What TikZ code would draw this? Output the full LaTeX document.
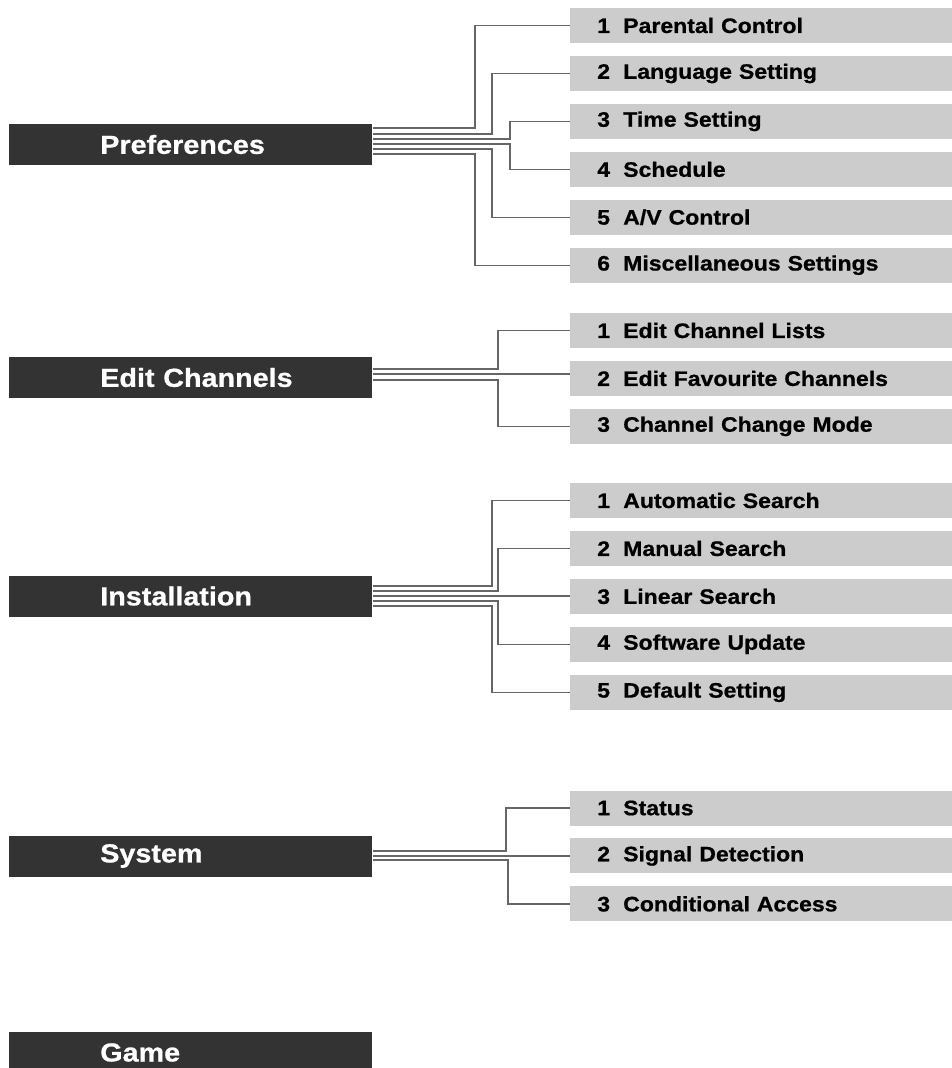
\documentclass[tikz,border=0pt]{standalone}
\usepackage{fontspec}
\setmainfont{Liberation Sans}[FakeStretch=1.1, FakeBold=0.8]
\usetikzlibrary{positioning,calc}
\definecolor{barblack}{HTML}{333333}
\definecolor{optgrey}{HTML}{CCCCCC}
\definecolor{wiregrey}{HTML}{666666}
\newcommand{\opt}[2]{\hspace*{20.25pt}\makebox[19.5pt][l]{#1}#2}

\begin{document}
\begin{tikzpicture}[
  x=0.75pt, y=-0.75pt, node distance=9.3pt,
  menu/.style={fill=barblack, text=white, anchor=west, inner xsep=0pt,
    text width=272.25pt, minimum height=30.75pt, align=left,
    font=\fontsize{19.6}{22}\selectfont\bfseries},
  option/.style={fill=optgrey, anchor=west, inner xsep=0pt, inner ysep=0pt,
    text width=286.5pt, minimum height=26.25pt, align=left,
    font=\fontsize{15.7}{18}\selectfont\bfseries},
  wire/.style={draw=wiregrey, line width=1pt}
]
\useasboundingbox (0,0) rectangle (952,1068);

% Preferences
\node[menu] (pref) at (9,144.5) {\hspace*{68.25pt}Preferences};
\node[option] (pref1) at (570,25.5) {\opt{1}{Parental Control}};
\node[option, below=of pref1] (pref2) {\opt{2}{Language Setting}};
\node[option, below=of pref2] (pref3) {\opt{3}{Time Setting}};
\node[option, below=of pref3] (pref4) {\opt{4}{Schedule}};
\node[option, below=of pref4] (pref5) {\opt{5}{A/V Control}};
\node[option, below=of pref5] (pref6) {\opt{6}{Miscellaneous Settings}};

\draw[wire] ($(pref.east)+(0,-16.5)$) -| ($(pref1.west)+(-95,0)$) -- (pref1.west);
\draw[wire] ($(pref.east)+(0,-10.5)$) -| ($(pref2.west)+(-78,0)$) -- (pref2.west);
\draw[wire] ($(pref.east)+(0,-5.5)$) -| ($(pref3.west)+(-60,0)$) -- (pref3.west);
\draw[wire] ($(pref.east)+(0,-0.5)$) -| ($(pref4.west)+(-60,0)$) -- (pref4.west);
\draw[wire] ($(pref.east)+(0,4.5)$) -| ($(pref5.west)+(-78,0)$) -- (pref5.west);
\draw[wire] ($(pref.east)+(0,9.5)$) -| ($(pref6.west)+(-95,0)$) -- (pref6.west);

% Edit Channels
\node[menu] (edit) at (9,377.5) {\hspace*{68.25pt}Edit Channels};
\node[option] (edit1) at (570,330.5) {\opt{1}{Edit Channel Lists}};
\node[option, below=of edit1] (edit2) {\opt{2}{Edit Favourite Channels}};
\node[option, below=of edit2] (edit3) {\opt{3}{Channel Change Mode}};

\draw[wire] ($(edit.east)+(0,-8.5)$) -| ($(edit1.west)+(-72,0)$) -- (edit1.west);
\draw[wire] ($(edit.east)+(0,-3.5)$) -- ($(edit.east -| edit2.west)+(0,-3.5)$);
\draw[wire] ($(edit.east)+(0,2.5)$) -| ($(edit3.west)+(-72,0)$) -- (edit3.west);

% Installation
\node[menu] (inst) at (9,596) {\hspace*{68.25pt}Installation};
\node[option] (inst1) at (570,500.5) {\opt{1}{Automatic Search}};
\node[option, below=of inst1] (inst2) {\opt{2}{Manual Search}};
\node[option, below=of inst2] (inst3) {\opt{3}{Linear Search}};
\node[option, below=of inst3] (inst4) {\opt{4}{Software Update}};
\node[option, below=of inst4] (inst5) {\opt{5}{Default Setting}};

\draw[wire] ($(inst.east)+(0,-10)$) -| ($(inst1.west)+(-78,0)$) -- (inst1.west);
\draw[wire] ($(inst.east)+(0,-5)$) -| ($(inst2.west)+(-72,0)$) -- (inst2.west);
\draw[wire] (inst.east) -- (inst.east -| inst3.west);
\draw[wire] ($(inst.east)+(0,5)$) -| ($(inst4.west)+(-72,0)$) -- (inst4.west);
\draw[wire] ($(inst.east)+(0,10)$) -| ($(inst5.west)+(-78,0)$) -- (inst5.west);

% System
\node[menu] (sys) at (9,856) {\hspace*{68.25pt}System};
\node[option] (sys1) at (570,808) {\opt{1}{Status}};
\node[option, below=of sys1] (sys2) {\opt{2}{Signal Detection}};
\node[option, below=of sys2] (sys3) {\opt{3}{Conditional Access}};

\draw[wire] ($(sys.east)+(0,-5)$) -| ($(sys1.west)+(-64,0)$) -- (sys1.west);
\draw[wire] (sys.east) -- (sys.east -| sys2.west);
\draw[wire] ($(sys.east)+(0,4)$) -| ($(sys3.west)+(-62,0)$) -- (sys3.west);

% Game
\node[menu] (game) at (9,1052.5) {\hspace*{68.25pt}Game};
\end{tikzpicture}
\end{document}
